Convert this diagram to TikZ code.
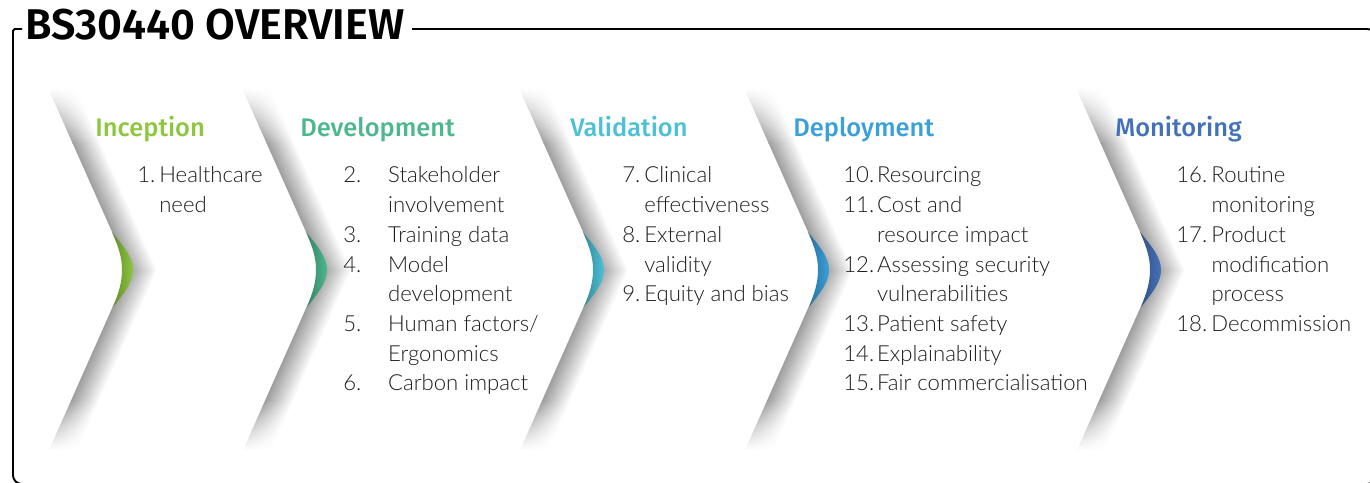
\documentclass[tikz,border=0pt]{standalone}
\usepackage{fontspec}
\IfFontExistsTF{Lato Light}{\setmainfont{Lato Light}}{\setmainfont{Lato}}
\IfFontExistsTF{Fira Sans Medium}{\newfontfamily\headfont{Fira Sans Medium}}{\newfontfamily\headfont{Fira Sans}}
\IfFontExistsTF{Fira Sans SemiBold}{\newfontfamily\titlefont{Fira Sans SemiBold}}{\newfontfamily\titlefont{Fira Sans}[UprightFont=*, BoldFont=* Bold]}
\usetikzlibrary{fadings, positioning}
\definecolor{incep}{HTML}{8DC63F}
\definecolor{devel}{HTML}{4DB88E}
\definecolor{valid}{HTML}{4CC1D6}
\definecolor{deploy}{HTML}{3AA0DA}
\definecolor{monit}{HTML}{4472B9}
\definecolor{bodytext}{HTML}{1E1E1E}
\tikzfading[name=fadetop, top color=transparent!100, bottom color=transparent!0]
\tikzfading[name=fadebottom, top color=transparent!0, bottom color=transparent!100]
\tikzstyle{frame}=[line width=1.1pt, black, overlay]
\tikzstyle{title}=[anchor=base west, inner sep=0pt, font=\titlefont\fontsize{24.5}{28}\selectfont]
\tikzstyle{heading}=[anchor=base west, inner sep=0pt, font=\headfont\fontsize{14.5}{18}\selectfont]
\tikzstyle{item}=[anchor=base west, inner sep=0pt, text=bodytext, font=\fontsize{12.6}{16.8}\selectfont]
\tikzstyle{shadow}=[overlay, left color=black!38, middle color=black!12, right color=white]

\begin{document}
\begin{tikzpicture}[x=0.02cm, y=-0.02cm]
  \useasboundingbox (0,0) rectangle (1370,483);
  \fill[white] (0,0) rectangle (1370,483);
  \clip (0,0) rectangle (1370,483);

  % chevron edges: shadow to the right, coloured accent at the tip
  \foreach \vx/\col in {133/incep,327/devel,604/valid,829/deploy,1161/monit}{
    \begin{scope}[transform canvas={shift={(\vx-85,88)}, xslant=-0.445}]
      \shade[shadow, path fading=fadetop] (0,0) rectangle (28,56);
      \shade[shadow] (0,55) rectangle (28,182);
    \end{scope}
    \begin{scope}[transform canvas={shift={(\vx-4,270)}, xslant=0.444}]
      \shade[shadow] (0,0) rectangle (28,131);
      \shade[shadow, path fading=fadebottom] (0,130) rectangle (28,180);
    \end{scope}
    \shade[left color=\col!70!black, right color=\col] (\vx-21,232)
      .. controls (\vx-8,248) and (\vx,258) .. (\vx,270)
      .. controls (\vx,282) and (\vx-8,292) .. (\vx-20,307)
      .. controls (\vx-14,292) and (\vx-11,282) .. (\vx-11,270)
      .. controls (\vx-11,258) and (\vx-14,248) .. cycle;
  }

  % frame and title
  \node[title] (title) at (25,40) {BS30440 OVERVIEW};
  \coordinate (fl) at (22,29);
  \coordinate (fr) at (412,29);
  \draw[frame, rounded corners=5pt] (fr) -- (1376,29) -- (1376,484) -- (13,484) -- (13,40);
  \draw[frame, rounded corners=1pt] (13,45) -- (13,29) -- (fl);

  % stage headings
  \node[heading, text=incep] (h-incep) at (95,137) {Inception};
  \node[heading, text=devel] (h-devel) at (300,137) {Development};
  \node[heading, text=valid] (h-valid) at (570,137) {Validation};
  \node[heading, text=deploy] (h-deploy) at (793,137) {Deployment};
  \node[heading, text=monit] (h-monit) at (1115,137) {Monitoring};

  % stage items
  \foreach \n/\t [count=\i from 0] in {1./Healthcare,/need}
    \node[item] (incep-\i) at (137,183+29.7*\i) {\makebox[12.5pt][l]{\n}\t};
  \foreach \n/\t [count=\i from 0] in {2./Stakeholder,/involvement,3./Training data,4./Model,/development,5./Human factors\slash,/Ergonomics,6./Carbon impact}
    \node[item] (devel-\i) at (343,183+29.7*\i) {\makebox[25.5pt][l]{\n}\t};
  \foreach \n/\t [count=\i from 0] in {7./Clinical,/effectiveness,8./External,/validity,9./Equity and bias}
    \node[item] (valid-\i) at (622,183+29.7*\i) {\makebox[12.5pt][l]{\n}\t};
  \foreach \n/\t [count=\i from 0] in {10./Resourcing,11./Cost and,/resource impact,12./Assessing security,/vulnerabilities,13./Patient safety,14./Explainability,15./Fair commercialisation}
    \node[item] (deploy-\i) at (843,183+29.7*\i) {\makebox[19.2pt][l]{\n}\t};
  \foreach \n/\t [count=\i from 0] in {16./Routine,/monitoring,17./Product,/modification,/process,18./Decommission}
    \node[item] (monit-\i) at (1176,183+29.7*\i) {\makebox[20pt][l]{\n}\t};
\end{tikzpicture}
\end{document}
